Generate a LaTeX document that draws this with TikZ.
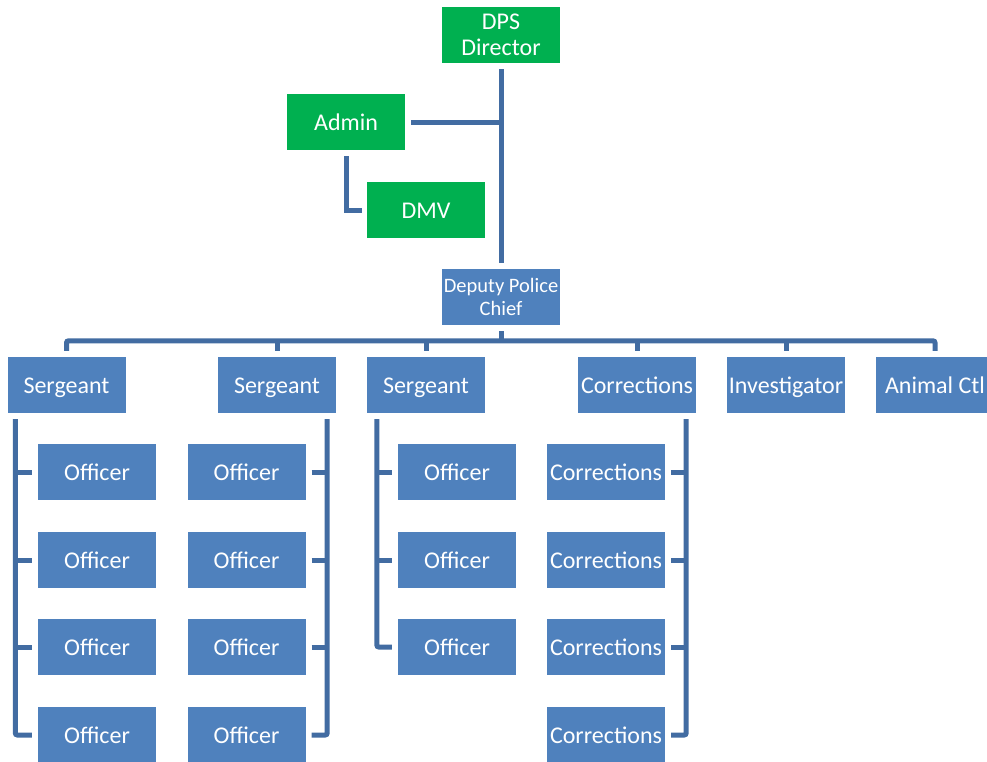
\documentclass[tikz,border=0pt]{standalone}
\usepackage{fontspec}
\setmainfont{Carlito}
\definecolor{boxgreen}{RGB}{0,176,80}
\definecolor{boxblue}{RGB}{79,129,189}
\definecolor{linkblue}{RGB}{66,108,162}
\begin{document}
\begin{tikzpicture}[x=1pt,y=-1pt,
  box/.style={rectangle,inner sep=0pt,minimum width=118pt,minimum height=56pt,
    text=white,align=center,font=\fontsize{24}{26}\selectfont},
  one/.style={text height=20pt,text depth=4pt},
  gbox/.style={box,fill=boxgreen},
  bbox/.style={box,fill=boxblue},
  link/.style={draw=linkblue,line width=5pt}]
\useasboundingbox (0,0) rectangle (987,761);
\clip (0,0) rectangle (987,761);
% top
\node[gbox] (dps) at (501,35) {DPS\\Director};
\node[gbox,one] (admin) at (346,122) {Admin};
\node[gbox,one] (dmv) at (426,210) {DMV};
\node[bbox,font=\fontsize{20.5}{23}\selectfont] (dep) at (501,297) {Deputy Police\\Chief};
% second level
\node[bbox,one] (s1) at (66.5,385) {Sergeant};
\node[bbox,one] (s2) at (277,385) {Sergeant};
\node[bbox,one] (s3) at (426,385) {Sergeant};
\node[bbox,one] (co) at (637,385) {Corrections};
\node[bbox,one] (inv) at (786,385) {Investigator};
\node[bbox,one] (an) at (935,385) {Animal Ctl};
% column 1
\node[bbox,one] (o11) at (97,472) {Officer};
\node[bbox,one] (o12) at (97,560) {Officer};
\node[bbox,one] (o13) at (97,647) {Officer};
\node[bbox,one] (o14) at (97,735) {Officer};
% column 2
\node[bbox,one] (o21) at (246.5,472) {Officer};
\node[bbox,one] (o22) at (246.5,560) {Officer};
\node[bbox,one] (o23) at (246.5,647) {Officer};
\node[bbox,one] (o24) at (246.5,735) {Officer};
% column 3
\node[bbox,one] (o31) at (457,472) {Officer};
\node[bbox,one] (o32) at (457,560) {Officer};
\node[bbox,one] (o33) at (457,647) {Officer};
% corrections column
\node[bbox,one] (c1) at (606,472) {Corrections};
\node[bbox,one] (c2) at (606,560) {Corrections};
\node[bbox,one] (c3) at (606,647) {Corrections};
\node[bbox,one] (c4) at (606,735) {Corrections};
% connectors top
\draw[link] ([yshift=-6pt]dps.south) -- ([yshift=6pt]dep.north);
\draw[link] ([xshift=6pt]admin.east) -- (admin.east -| dps.south);
\draw[link] ([yshift=-6pt]admin.south) |- ([xshift=-5pt]dmv.west);
% bus
\draw[link,rounded corners=2pt] ([yshift=6pt]s1.north) -- ([yshift=16pt]s1.north)
  -- ([yshift=16pt]an.north) -- ([yshift=6pt]an.north);
\draw[link] ([yshift=-6pt]dep.south) -- ([yshift=16pt]s1.north -| dep.south);
\foreach \n in {s2,s3,co,inv}
  \draw[link] ([yshift=6pt]\n.north) -- ([yshift=16pt]\n.north);
% column 1 links
\draw[link,rounded corners=2pt] ([shift={(8pt,-6pt)}]s1.south west) |- ([xshift=-6pt]o14.west);
\foreach \n in {o11,o12,o13}
  \draw[link] ([xshift=-6pt]\n.west) -- ++(-16,0);
% column 2 links
\draw[link,rounded corners=2pt] ([shift={(-9pt,-6pt)}]s2.south east) |- ([xshift=6pt]o24.east);
\foreach \n in {o21,o22,o23}
  \draw[link] ([xshift=6pt]\n.east) -- ++(16,0);
% column 3 links
\draw[link,rounded corners=2pt] ([shift={(10pt,-6pt)}]s3.south west) |- ([xshift=-6pt]o33.west);
\foreach \n in {o31,o32}
  \draw[link] ([xshift=-6pt]\n.west) -- ++(-15,0);
% corrections links
\draw[link,rounded corners=2pt] ([shift={(-10pt,-6pt)}]co.south east) |- ([xshift=6pt]c4.east);
\foreach \n in {c1,c2,c3}
  \draw[link] ([xshift=6pt]\n.east) -- ++(15,0);
\end{tikzpicture}
\end{document}
